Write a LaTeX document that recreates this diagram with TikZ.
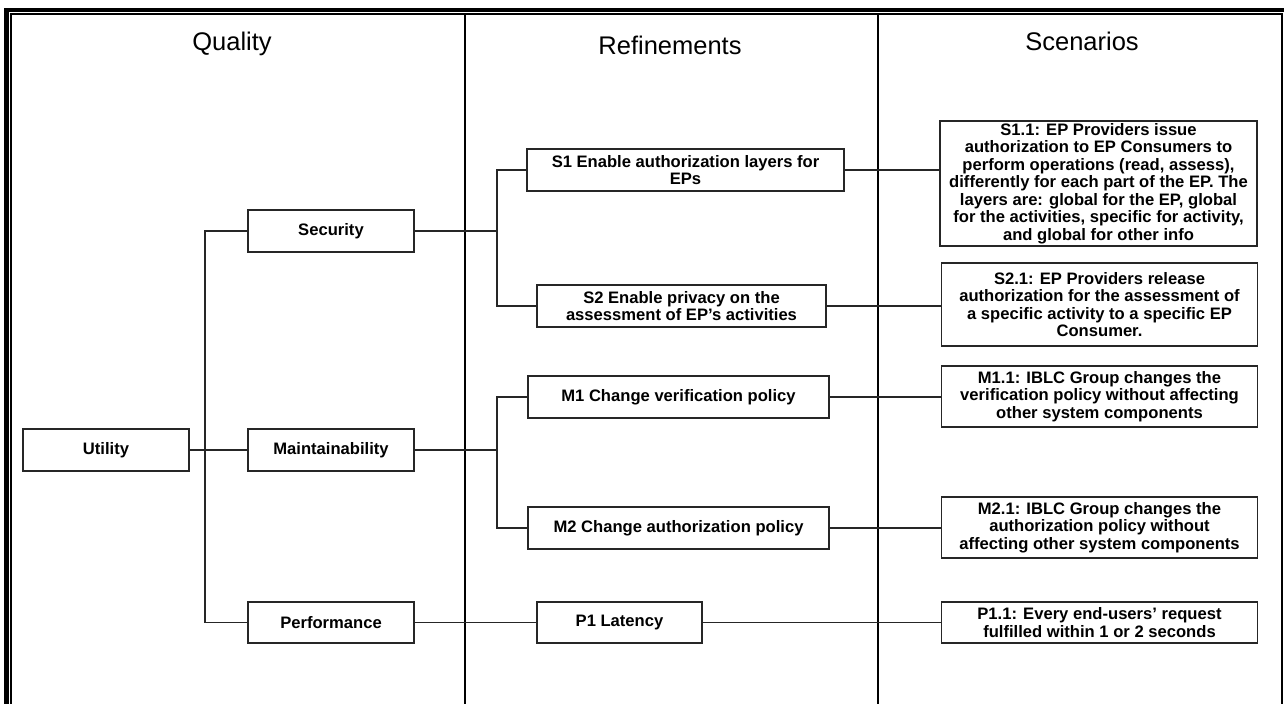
\documentclass[tikz,border=0pt]{standalone}
\usepackage{fontspec}
\setmainfont{Liberation Sans}
\begin{document}
\begin{tikzpicture}[x=1pt,y=-1pt,
  box/.style={draw=black!85,line width=1.3pt,inner sep=0pt,align=center,
    font=\fontsize{16.6}{17.5}\selectfont\bfseries},
  conn/.style={draw=black!85,line width=1.3pt},
  hdr/.style={font=\fontsize{25.5}{29}\selectfont},
  frame/.style={draw=black}]
\useasboundingbox (0,0) rectangle (1285,704);
% frame
\draw[frame,line width=4pt] (4,9.5) -- (1284,9.5);
\draw[frame,line width=5pt] (6.5,8) -- (6.5,704);
\draw[frame,line width=1.5pt] (11,704) -- (11,14) -- (1282,14) -- (1282,704);
\draw[frame,line width=2pt] (465,14) -- (465,704);
\draw[frame,line width=2pt] (878,14) -- (878,704);
% headers
\node[hdr] (hq) at (232,44) {Quality};
\node[hdr] (hr) at (670,45) {Refinements};
\node[hdr] (hs) at (1082,41) {Scenarios};
% quality
\node[box,minimum width=166pt,minimum height=42pt] (Util) at (106,450) {Utility};
\node[box,minimum width=166pt,minimum height=42pt] (Sec) at (331,231) {Security};
\node[box,minimum width=166pt,minimum height=42pt] (Maint) at (331,450) {Maintainability};
\node[box,minimum width=166pt,minimum height=41pt] (Perf) at (331,622.5) {Performance};
% refinements
\node[box,minimum width=317pt,minimum height=42pt] (S1) at (685.5,170) {S1 Enable authorization layers for\\EPs};
\node[box,minimum width=289pt,minimum height=42pt] (S2) at (681.5,306) {S2 Enable privacy on the\\assessment of EP’s activities};
\node[box,minimum width=301pt,minimum height=42pt] (M1) at (678.5,397) {M1 Change verification policy};
\node[box,minimum width=301pt,minimum height=42pt] (M2) at (678.5,528) {M2 Change authorization policy};
\node[box,minimum width=165pt,minimum height=41pt] (P1) at (619.5,622.5) {P1 Latency};
% scenarios
\node[box,minimum width=317pt,minimum height=125pt] (S11) at (1098.5,183.5) {S1.1: EP Providers issue\\authorization to EP Consumers to\\perform operations (read, assess),\\differently for each part of the EP. The\\layers are: global for the EP, global\\for the activities, specific for activity,\\and global for other info};
\node[box,minimum width=316pt,minimum height=83pt] (S21) at (1099.5,304.5) {S2.1: EP Providers release\\authorization for the assessment of\\a specific activity to a specific EP\\Consumer.};
\node[box,minimum width=316pt,minimum height=61pt] (M11) at (1099.5,396.5) {M1.1: IBLC Group changes the\\verification policy without affecting\\other system components};
\node[box,minimum width=316pt,minimum height=61pt] (M21) at (1099.5,527.5) {M2.1: IBLC Group changes the\\authorization policy without\\affecting other system components};
\node[box,minimum width=316pt,minimum height=41pt] (P11) at (1099.5,622.5) {P1.1: Every end-users’ request\\fulfilled within 1 or 2 seconds};
% connectors
\coordinate (sp) at (205,0);
\coordinate (rs) at (497,0);
\draw[conn] (Util.east) -- (Maint.west);
\draw[conn] (Sec.west) -- (Sec.west -| sp) -- (Perf.west -| sp) -- (Perf.west);
\draw[conn] (Sec.east) -- (Sec.east -| rs);
\draw[conn] (S1.west) -- (S1.west -| rs) -- (S2.west -| rs) -- (S2.west);
\draw[conn] (Maint.east) -- (Maint.east -| rs);
\draw[conn] (M1.west) -- (M1.west -| rs) -- (M2.west -| rs) -- (M2.west);
\draw[conn] (Perf.east) -- (P1.west);
\draw[conn] (S1.east) -- (S1.east -| S11.west);
\draw[conn] (S2.east) -- (S2.east -| S21.west);
\draw[conn] (M1.east) -- (M1.east -| M11.west);
\draw[conn] (M2.east) -- (M2.east -| M21.west);
\draw[conn] (P1.east) -- (P1.east -| P11.west);
\end{tikzpicture}
\end{document}
